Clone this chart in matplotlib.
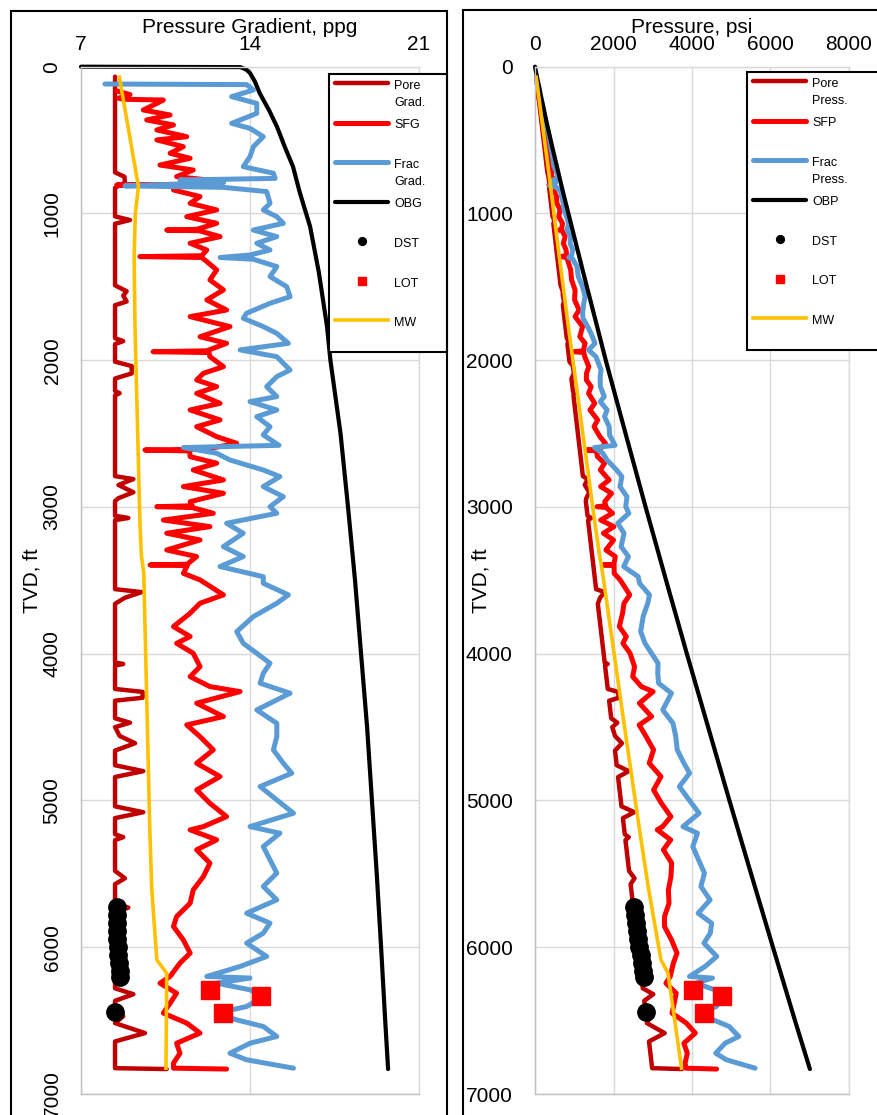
"""Pore pressure / fracture gradient plot: gradient (ppg) and pressure (psi) versus TVD.
"""
import matplotlib
matplotlib.use("Agg")
import matplotlib.pyplot as plt
import numpy as np
from matplotlib.legend_handler import HandlerLine2D
from matplotlib.lines import Line2D
from matplotlib.patches import Rectangle

plt.rcParams["font.family"] = ["Liberation Sans", "DejaVu Sans"]

# --- values: (TVD ft, gradient ppg) ---
pore_grad = [(68, 8.41), (720, 8.41), (750, 8.80), (790, 8.82), (825, 8.41), (1020, 8.41), (1045, 9.03),
             (1070, 8.41), (1490, 8.41), (1530, 8.89), (1560, 8.75), (1600, 8.89), (1625, 8.41), (1850, 8.41),
             (1870, 8.75), (1890, 8.41), (2010, 8.41), (2040, 9.10), (2090, 9.10), (2125, 8.41), (2210, 8.41),
             (2225, 8.60), (2240, 8.41), (2790, 8.41), (2810, 9.17), (2850, 8.55), (2900, 9.17), (2940, 8.55),
             (2960, 8.41), (3060, 8.41), (3075, 8.96), (3090, 8.41), (3560, 8.41), (3580, 9.51), (3620, 8.80),
             (3660, 8.41), (4060, 8.41), (4070, 8.75), (4080, 8.41), (4240, 8.41), (4260, 9.55), (4300, 9.55),
             (4320, 8.41), (4440, 8.41), (4470, 9.03), (4500, 8.41), (4560, 8.60), (4610, 9.24), (4660, 8.41),
             (4760, 8.41), (4800, 9.58), (4840, 8.41), (5040, 8.41), (5080, 9.58), (5120, 8.41), (5230, 8.41),
             (5250, 8.75), (5270, 8.41), (5480, 8.41), (5530, 8.82), (5570, 8.41), (5700, 8.41), (5730, 8.96),
             (5760, 8.41), (6280, 8.41), (6320, 9.17), (6365, 8.41), (6420, 8.41), (6470, 8.75), (6517, 8.41),
             (6585, 9.65), (6642, 8.41), (6824, 8.41), (6830, 10.55)]

sfg = [(165, 8.48), (190, 9.03), (215, 8.55), (222, 8.75), (227, 10.41), (250, 10.14), (295, 9.58),
       (329, 10.69), (363, 9.72), (397, 10.83), (431, 10.14), (477, 11.38), (499, 10.14), (545, 11.24),
       (590, 10.69), (624, 11.52), (670, 10.27), (704, 11.65), (749, 10.96), (783, 12.90), (800, 12.00),
       (806, 8.48), (812, 11.00), (840, 10.83), (885, 11.93), (931, 11.52), (976, 12.62), (1022, 11.38),
       (1067, 12.62), (1108, 11.80), (1113, 10.55), (1118, 11.90), (1158, 12.76), (1203, 11.52), (1249, 12.21),
       (1288, 12.00), (1294, 9.44), (1300, 12.00), (1328, 12.21), (1385, 12.62), (1453, 12.34), (1521, 12.90),
       (1589, 12.21), (1658, 13.03), (1703, 11.52), (1771, 13.17), (1840, 11.93), (1885, 13.03), (1936, 12.20),
       (1942, 9.99), (1948, 12.30), (1976, 12.34), (2044, 12.90), (2089, 12.07), (2135, 11.79), (2180, 12.62),
       (2226, 11.79), (2294, 12.76), (2339, 11.52), (2407, 12.76), (2453, 11.79), (2521, 12.62), (2566, 13.45),
       (2606, 12.20), (2612, 9.65), (2618, 11.50), (2657, 11.52), (2702, 12.62), (2748, 11.65), (2816, 12.90),
       (2861, 11.24), (2907, 12.90), (2964, 11.52), (2992, 11.60), (2998, 10.14), (3004, 11.60), (3043, 12.48),
       (3089, 10.41), (3134, 12.34), (3179, 10.55), (3225, 11.93), (3293, 10.55), (3338, 11.79), (3390, 11.40),
       (3395, 9.86), (3400, 11.40), (3452, 11.24), (3497, 11.93), (3599, 12.90), (3656, 11.93), (3724, 11.52),
       (3815, 10.83), (3883, 11.52), (3929, 10.96), (3997, 11.65), (4088, 11.93), (4156, 11.52), (4224, 12.34),
       (4258, 13.59), (4337, 11.79), (4428, 12.90), (4485, 11.38), (4565, 11.93), (4655, 12.48), (4746, 11.79),
       (4837, 12.76), (4928, 11.79), (5019, 12.34), (5110, 13.03), (5178, 12.07), (5200, 11.52), (5268, 12.62),
       (5336, 11.79), (5427, 12.34), (5518, 12.07), (5609, 11.65), (5700, 11.52), (5791, 10.96), (5859, 10.83),
       (5950, 11.24), (6040, 11.52), (6108, 11.10), (6199, 10.69), (6245, 10.27), (6313, 10.96), (6381, 10.69),
       (6449, 10.41), (6517, 11.38), (6585, 11.93), (6654, 10.96), (6722, 11.10), (6790, 10.83), (6824, 10.83),
       (6830, 13.03)]

frac_grad = [(118, 7.99), (122, 13.86), (159, 14.14), (204, 13.24), (250, 14.28), (318, 14.28), (386, 13.24),
             (420, 14.00), (477, 14.55), (545, 14.14), (613, 14.00), (681, 13.72), (726, 14.97), (761, 15.04),
             (772, 11.10), (790, 12.90), (812, 8.82), (822, 12.90), (851, 14.69), (931, 14.83), (976, 14.55),
             (1022, 15.11), (1067, 15.38), (1113, 14.14), (1158, 15.11), (1203, 14.28), (1249, 14.83),
             (1283, 14.00), (1300, 12.76), (1312, 14.14), (1362, 15.11), (1430, 14.83), (1499, 15.52),
             (1567, 15.66), (1612, 14.83), (1680, 13.86), (1714, 13.72), (1771, 14.55), (1817, 15.11),
             (1885, 15.59), (1930, 13.59), (1976, 15.11), (2067, 15.66), (2112, 15.11), (2180, 14.69),
             (2248, 15.11), (2282, 14.00), (2339, 15.11), (2385, 14.28), (2453, 14.83), (2509, 14.55),
             (2580, 15.20), (2595, 11.24), (2634, 12.62), (2680, 13.17), (2748, 14.55), (2793, 15.24),
             (2861, 14.55), (2930, 15.38), (2998, 14.83), (3043, 15.11), (3111, 13.03), (3179, 13.72),
             (3270, 12.90), (3338, 13.72), (3406, 12.76), (3475, 14.55), (3520, 14.55), (3599, 15.59),
             (3656, 15.11), (3747, 14.14), (3849, 13.45), (3929, 13.72), (3997, 14.28), (4065, 14.83),
             (4133, 14.55), (4201, 14.42), (4269, 15.66), (4383, 14.28), (4474, 15.11), (4565, 15.11),
             (4655, 14.97), (4746, 15.38), (4814, 15.73), (4905, 14.42), (4996, 15.11), (5087, 15.80),
             (5178, 14.00), (5223, 15.24), (5314, 14.55), (5405, 14.83), (5495, 15.11), (5586, 14.55),
             (5677, 15.11), (5768, 13.86), (5836, 14.83), (5904, 14.55), (5972, 13.86), (6063, 14.69),
             (6131, 13.59), (6199, 12.21), (6210, 14.00), (6245, 12.62), (6290, 14.00), (6336, 14.55),
             (6404, 13.86), (6449, 12.62), (6495, 13.45), (6540, 14.55), (6608, 15.11), (6654, 14.00),
             (6722, 13.17), (6767, 13.86), (6824, 15.80)]

obg = [(0, 7.00), (3, 13.60), (20, 13.85), (43, 14.00), (100, 14.20), (180, 14.40), (300, 14.80), (410, 15.12),
       (550, 15.45), (680, 15.78), (850, 16.05), (1090, 16.49), (1400, 16.85), (1770, 17.19), (2000, 17.33),
       (2500, 17.75), (3000, 18.06), (3500, 18.35), (4000, 18.60), (4500, 18.85), (5000, 19.05), (5500, 19.25),
       (6000, 19.43), (6500, 19.60), (6830, 19.72)]

mud_weight = [(72, 8.59), (817, 9.38), (1000, 9.25), (1300, 9.20), (1800, 9.24), (3100, 9.44), (3330, 9.50),
              (3450, 9.60), (4500, 9.75), (5200, 9.85), (5600, 9.93), (6086, 10.14), (6177, 10.55), (6824, 10.52)]

dst = [(5725, 8.49), (5780, 8.49), (5835, 8.50), (5890, 8.50), (5945, 8.51), (6000, 8.52), (6055, 8.54),
       (6110, 8.56), (6160, 8.60), (6202, 8.62), (6440, 8.41)]

lot = [(6290, 12.34), (6447, 12.88), (6332, 14.46)]

PSI_PER_FT_PPG = 0.052

COLORS = {"pore": "#C00000", "sfg": "#FF0000", "frac": "#5B9BD5", "obg": "black", "mw": "#FFC000"}
WIDTHS = {"pore": 3.2, "sfg": 3.6, "frac": 3.6, "obg": 3.0}

left_labels = ["Pore\nGrad.", "SFG\n", "Frac\nGrad.", "OBG\n", "DST\n", "LOT\n", "MW\n"]
right_labels = ["Pore\nPress.", "SFP\n", "Frac\nPress.", "OBP\n", "DST\n", "LOT\n", "MW\n"]


class FirstLineHandler(HandlerLine2D):
    """Lift a legend handle so it sits beside the first line of a two-line label."""

    def create_artists(self, legend, orig_handle, xdescent, ydescent, width, height, fontsize, trans):
        artists = super().create_artists(legend, orig_handle, xdescent, ydescent, width, height,
                                         fontsize, trans)
        for art in artists:
            art.set_ydata(np.asarray(art.get_ydata()) + 0.9 * fontsize)
        return artists


def draw_panel(fig, ax, pressure, labels, legend_box):
    """Draw one depth panel; pressure=True converts gradients to psi."""
    lines = []
    for key, series in [("pore", pore_grad), ("sfg", sfg), ("frac", frac_grad), ("obg", obg)]:
        tvd, ppg = np.array(series).T
        x = PSI_PER_FT_PPG * ppg * tvd if pressure else ppg
        line, = ax.plot(x, tvd, color=COLORS[key], lw=WIDTHS[key], solid_joinstyle="round",
                        solid_capstyle="round", clip_on=False)
        lines.append(line)

    tvd, ppg = np.array(dst).T
    x = PSI_PER_FT_PPG * ppg * tvd if pressure else ppg
    pts, = ax.plot(x, tvd, ls="none", marker="o", ms=12.5, color="black", clip_on=False)
    lines.append(pts)

    tvd, ppg = np.array(lot).T
    x = PSI_PER_FT_PPG * ppg * tvd if pressure else ppg
    pts, = ax.plot(x, tvd, ls="none", marker="s", ms=12.5, color="#FF0000", clip_on=False)
    lines.append(pts)

    tvd, ppg = np.array(mud_weight).T
    x = PSI_PER_FT_PPG * ppg * tvd if pressure else ppg
    line, = ax.plot(x, tvd, color=COLORS["mw"], lw=2.6, clip_on=False)
    lines.append(line)

    # axes styling, excel-like
    ax.set_ylim(7000, 0)
    ax.set_yticks(np.arange(0, 7001, 1000))
    ax.xaxis.tick_top()
    ax.xaxis.set_label_position("top")
    ax.grid(True, color="#d9d9d9", lw=1.0)
    ax.set_axisbelow(True)
    for side, spine in ax.spines.items():
        spine.set_color("#bfbfbf" if side in ("left", "bottom") else "#d9d9d9")
        spine.set_linewidth(1.0)
    ax.tick_params(length=0, labelsize=15)
    ax.tick_params(axis="x", pad=9)

    ax.set_ylabel("TVD, ft", fontsize=15)
    ax.yaxis.label.set_verticalalignment("center")

    leg = ax.legend(lines, labels, loc="upper left", mode="expand", bbox_to_anchor=legend_box,
                    bbox_transform=fig.transFigure, fontsize=9, fancybox=False, edgecolor="black",
                    framealpha=1.0, borderpad=0.45, borderaxespad=0, handlelength=4.3, handletextpad=0.45,
                    labelspacing=0.85, markerscale=0.45, handler_map={Line2D: FirstLineHandler()})
    leg.get_frame().set_linewidth(1.5)
    for txt in leg.get_texts():
        txt.set_linespacing(1.55)
    return leg


fig = plt.figure(figsize=(8.77, 11.15), dpi=100)

# left panel: gradients
ax1 = fig.add_axes([81 / 877, 1 - 1094 / 1115, 338 / 877, 1027.3 / 1115])
draw_panel(fig, ax1, False, left_labels, (329 / 877, 1 - 348 / 1115, 118 / 877, 274 / 1115))
ax1.set_xlim(7, 21)
ax1.set_xticks([7, 14, 21])
ax1.set_xlabel("Pressure Gradient, ppg", fontsize=15)
ax1.xaxis.set_label_coords(0.5, 1.0377)
ax1.xaxis.label.set_verticalalignment("center")
ax1.tick_params(axis="y", labelrotation=90, pad=14)
for lbl in ax1.get_yticklabels():
    lbl.set_verticalalignment("center")
ax1.yaxis.set_label_coords(-0.145, 0.5)

# right panel: pressures
ax2 = fig.add_axes([535 / 877, 1 - 1094 / 1115, 314 / 877, 1027.3 / 1115])
draw_panel(fig, ax2, True, right_labels, (747 / 877, 1 - 347 / 1115, 150 / 877, 275 / 1115))
ax2.set_xlim(0, 8000)
ax2.set_xticks(np.arange(0, 8001, 2000))
ax2.set_xlabel("Pressure, psi", fontsize=15)
ax2.xaxis.set_label_coords(0.5, 1.0377)
ax2.xaxis.label.set_verticalalignment("center")
ax2.tick_params(axis="y", pad=16)
ax2.yaxis.set_label_coords(-0.172, 0.5)

# panel frames (cut by the figure edges, as in the source image)
fig.add_artist(Rectangle((11 / 877, -0.05), 436 / 877, 1.05 - 11 / 1115, transform=fig.transFigure,
                         fill=False, ec="black", lw=1.5))
fig.add_artist(Rectangle((463 / 877, -0.05), 0.6, 1.05 - 10 / 1115, transform=fig.transFigure,
                         fill=False, ec="black", lw=1.5))

fig.savefig("out.png", dpi=100)
